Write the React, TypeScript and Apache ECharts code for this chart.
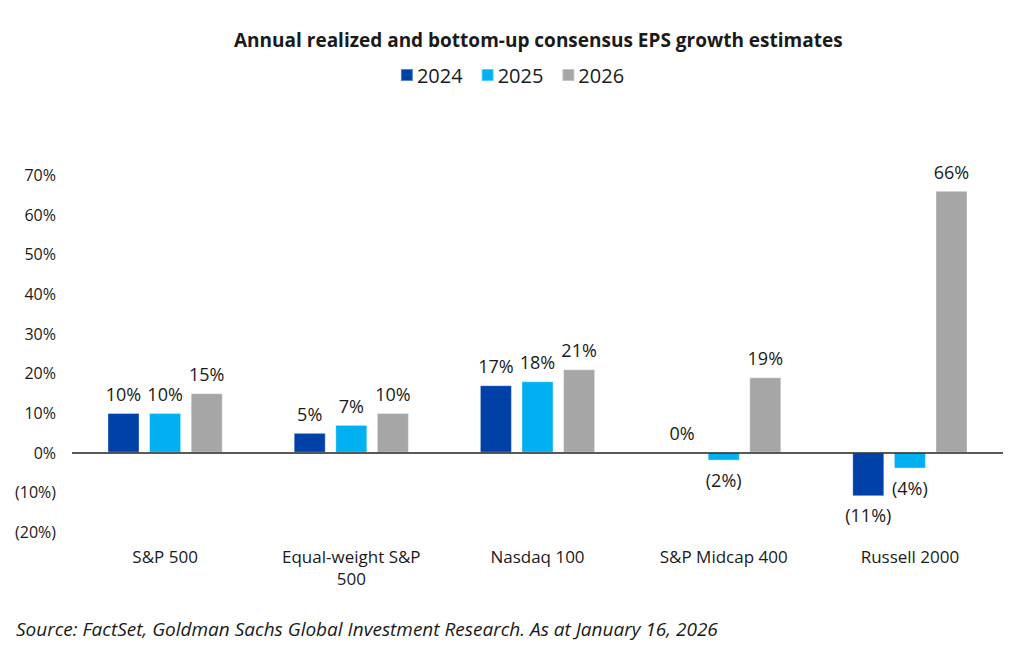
import React, { useEffect, useRef } from "react";
import * as echarts from "echarts";

const categories = ["S&P 500", "Equal-weight S&P\n500", "Nasdaq 100", "S&P Midcap 400", "Russell 2000"];
const seriesNames = ["2024", "2025", "2026"];
const values2024 = [10, 5, 17, 0, -11];
const values2025 = [10, 7, 18, -2, -4];
const values2026 = [15, 10, 21, 19, 66];
const colors = ["#0041A8", "#00B0F0", "#A6A6A6"];
const yTicks = { min: -20, max: 70, interval: 10 };

const FONT = "'Open Sans', 'DejaVu Sans', sans-serif";
const TEXT = "#1a1a1a";

const fmt = (v: number) => (v < 0 ? `(${-v}%)` : `${v}%`);

export default function App() {
  const ref = useRef<HTMLDivElement>(null);
  useEffect(() => {
    if (!ref.current) return;
    const chart = echarts.init(ref.current, null, { renderer: "svg" });
    const all = [values2024, values2025, values2026];
    const series = all.map((vals, i) => ({
      name: seriesNames[i],
      type: "bar",
      barWidth: 32,
      barGap: "30%",
      itemStyle: { color: colors[i], borderColor: "rgba(255,255,255,0.35)", borderWidth: 1 },
      label: {
        show: true,
        formatter: (p: any) => fmt(p.value),
        fontFamily: FONT,
        fontSize: 18,
        color: TEXT,
        distance: 10,
      },
      data: vals.map((v) => ({ value: v, label: { position: v < 0 ? "bottom" : "top" } })),
      ...(i === 0
        ? {
            markLine: {
              silent: true,
              symbol: "none",
              label: { show: false },
              lineStyle: { color: "#222", width: 1.5, type: "solid" },
              data: [{ yAxis: 0 }],
            },
          }
        : {}),
    }));
    chart.setOption({
      animation: false,
      title: {
        text: "Annual realized and bottom-up consensus EPS growth estimates",
        left: 229,
        top: 25,
        textStyle: { fontFamily: FONT, fontSize: 19, fontWeight: "bold", color: TEXT },
      },
      legend: {
        data: seriesNames,
        top: 60,
        left: "center",
        itemWidth: 12,
        itemHeight: 12,
        itemGap: 18,
        icon: "rect",
        textStyle: { fontFamily: FONT, fontSize: 20, color: TEXT, padding: [0, 0, 0, -1] },
      },
      grid: { left: 72, right: 21, top: 175, bottom: 118, containLabel: false },
      xAxis: {
        type: "category",
        data: categories,
        axisLine: { show: false, onZero: false },
        axisTick: { show: false },
        axisLabel: { fontFamily: FONT, fontSize: 17, color: TEXT, margin: 13, lineHeight: 22, interval: 0 },
      },
      yAxis: {
        type: "value",
        min: yTicks.min,
        max: yTicks.max,
        interval: yTicks.interval,
        splitLine: { show: false },
        axisLine: { show: false },
        axisTick: { show: false },
        axisLabel: {
          fontFamily: FONT,
          fontSize: 16,
          color: TEXT,
          margin: 16,
          formatter: (v: number) => fmt(v),
        },
      },
      graphic: [
        {
          type: "text",
          left: 16,
          top: 619,
          style: {
            text: "Source: FactSet, Goldman Sachs Global Investment Research. As at January 16, 2026",
            font: `italic 19px ${FONT}`,
            fill: TEXT,
          },
        },
      ],
      series,
    });
    return () => chart.dispose();
  }, []);
  return (
    <div
      ref={ref}
      style={{ position: "fixed", left: 0, top: 0, width: 1024, height: 650, background: "#fff" }}
    />
  );
}
